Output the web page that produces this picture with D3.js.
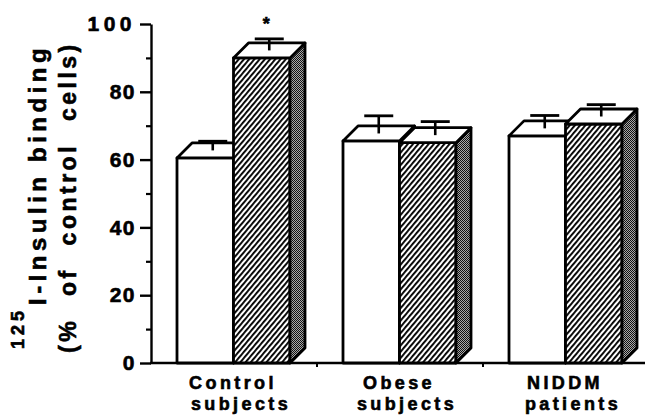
<!DOCTYPE html>
<html>
<head>
<meta charset="utf-8">
<script src="https://cdn.jsdelivr.net/npm/d3@7"></script>
<style>
  html, body { margin: 0; padding: 0; background: #fff; }
  svg { display: block; }
  text { font-family: "Liberation Sans", Arial, Helvetica, sans-serif; font-weight: bold; fill: #000; stroke: #000; stroke-width: 0.6px; }
</style>
</head>
<body>
<svg id="chart" width="645" height="418"></svg>
<script>
// Groups of subjects shown along the x axis
const categories = ["Control subjects", "Obese subjects", "NIDDM patients"];
// Two conditions per group: plain (open) bars and hatched bars
const conditions = ["basal", "treated"];
const basalMean = [60.5, 65.5, 67];
const basalSE = [2.7, 5.2, 3.8];
const treatedMean = [90, 65, 70.5];
const treatedSE = [3.4, 4.0, 3.5];
const treatedSignificant = [true, false, false];
const yMajorTicks = [0, 20, 40, 60, 80, 100];
const yMinorTicks = [10, 30, 50, 70, 90];

const svg = d3.select("#chart");
const depth = 15;            // 3-D offset of the bar blocks
const ink = "#000";

const y = d3.scaleLinear().domain([0, 100]).range([363, 24]);
const x = d3.scaleBand().domain(categories).range([151, 649]).paddingInner(0).paddingOuter(0);
const xSub = d3.scaleBand().domain(conditions).range([26, 139]);

// Fill patterns: diagonal hatching for the front face, stipple for the side face
const defs = svg.append("defs");
const hatch = defs.append("pattern")
  .attr("id", "hatch").attr("patternUnits", "userSpaceOnUse")
  .attr("width", 4).attr("height", 4)
  .attr("patternTransform", "rotate(40)");
hatch.append("rect").attr("width", 4).attr("height", 4).attr("fill", "#fff");
hatch.append("rect").attr("x", 0).attr("y", 0).attr("width", 1.9).attr("height", 4).attr("fill", ink);

const stip = defs.append("pattern")
  .attr("id", "stipple").attr("patternUnits", "userSpaceOnUse")
  .attr("width", 2).attr("height", 2);
stip.append("rect").attr("width", 2).attr("height", 2).attr("fill", "#a8a8a8");
stip.append("rect").attr("x", 0).attr("y", 0).attr("width", 1).attr("height", 1).attr("fill", "#111");
stip.append("rect").attr("x", 1).attr("y", 1).attr("width", 1).attr("height", 1).attr("fill", "#111");

// Y axis: major ticks with labels, short minor ticks
const yAxis = d3.axisLeft(y).tickValues(yMajorTicks).tickSize(11).tickSizeOuter(0).tickPadding(4);
const gy = svg.append("g").attr("transform", "translate(151,0)").call(yAxis);
gy.select(".domain").attr("stroke", ink).attr("stroke-width", 2.4);
gy.selectAll(".tick line").attr("stroke", ink).attr("stroke-width", 2.4);
gy.selectAll(".tick text")
  .style("font-size", "21px")
  .style("letter-spacing", d => d === 100 ? "4.5px" : "1.5px")
  .attr("x", -15);
const gyMinor = svg.append("g").attr("transform", "translate(151,0)")
  .call(d3.axisLeft(y).tickValues(yMinorTicks).tickSize(5).tickSizeOuter(0).tickFormat(""));
gyMinor.select(".domain").remove();
gyMinor.selectAll(".tick line").attr("stroke", ink).attr("stroke-width", 2.2);

// X axis baseline with small ticks between groups
svg.append("line")
  .attr("x1", 150).attr("x2", 645).attr("y1", y(0)).attr("y2", y(0))
  .attr("stroke", ink).attr("stroke-width", 2.4);
svg.selectAll(".xtick").data(categories.slice(1)).join("line")
  .attr("class", "xtick")
  .attr("x1", d => x(d)).attr("x2", d => x(d))
  .attr("y1", y(0)).attr("y2", y(0) + 4)
  .attr("stroke", ink).attr("stroke-width", 2);

// Bar records
const bars = [];
categories.forEach((c, i) => {
  bars.push({ cat: c, cond: "basal", mean: basalMean[i], se: basalSE[i], sig: false });
  bars.push({ cat: c, cond: "treated", mean: treatedMean[i], se: treatedSE[i], sig: treatedSignificant[i] });
});

const frontFill = d => d.cond === "treated" ? "url(#hatch)" : "#fff";
const sideFill = d => d.cond === "treated" ? "url(#stipple)" : "#fff";

const g = svg.append("g")
  .attr("stroke", ink).attr("stroke-width", 2.8).attr("stroke-linejoin", "round");

bars.forEach(d => {
  const x0 = x(d.cat) + xSub(d.cond);
  const w = xSub.bandwidth();
  const yT = y(d.mean), yB = y(0);
  const b = g.append("g");
  // front face
  b.append("rect").attr("x", x0).attr("y", yT).attr("width", w).attr("height", yB - yT)
    .attr("fill", frontFill(d));
  // side face
  b.append("path")
    .attr("d", `M${x0 + w},${yT}L${x0 + w + depth},${yT - depth}L${x0 + w + depth},${yB - depth}L${x0 + w},${yB}Z`)
    .attr("fill", sideFill(d));
  // top face
  b.append("path")
    .attr("d", `M${x0},${yT}L${x0 + w},${yT}L${x0 + w + depth},${yT - depth}L${x0 + depth},${yT - depth}Z`)
    .attr("fill", "#fff");
  // error bar rising from the centre of the top face
  const cx = x0 + w / 2 + depth / 2;
  const y1 = y(d.mean) - depth / 2;
  const y2 = y(d.mean + d.se) - depth / 2;
  b.append("line").attr("x1", cx).attr("x2", cx).attr("y1", y1).attr("y2", y2)
    .attr("stroke-width", 2.6);
  b.append("line").attr("x1", cx - 14.5).attr("x2", cx + 14.5).attr("y1", y2).attr("y2", y2)
    .attr("stroke-width", 2.8);
  if (d.sig) {
    svg.append("text").attr("x", cx - 3).attr("y", y2 - 9)
      .attr("text-anchor", "middle").style("font-size", "18px").text("*");
  }
});

// Category labels, two lines each
const labelOffsets = [-1, 7];
const labelBaselines = [389, 409.5];
categories.forEach(c => {
  c.split(" ").forEach((wd, k) => {
    svg.append("text")
      .attr("text-anchor", "middle")
      .style("font-size", "18px").style("letter-spacing", "3.4px")
      .attr("x", x(c) + x.bandwidth() / 2 + labelOffsets[k])
      .attr("y", labelBaselines[k])
      .text(wd);
  });
});

// Y axis title (rotated), with superscript isotope number
const yt = svg.append("g").attr("transform", "translate(45.5,305) rotate(-90)");
yt.append("text").attr("x", -44).attr("y", -22)
  .style("font-size", "18px").style("letter-spacing", "4px").text("125");
const line1 = yt.append("text").style("font-size", "24px").style("letter-spacing", "4.5px");
line1.append("tspan").attr("x", 0).attr("y", 0).text("I-Insulin");
line1.append("tspan").attr("x", 143).attr("y", 0).text("binding");
yt.append("text").attr("x", -48).attr("y", 30)
  .style("font-size", "23px").style("letter-spacing", "3.5px").style("word-spacing", "12px")
  .text("(% of control cells)");
</script>
</body>
</html>
